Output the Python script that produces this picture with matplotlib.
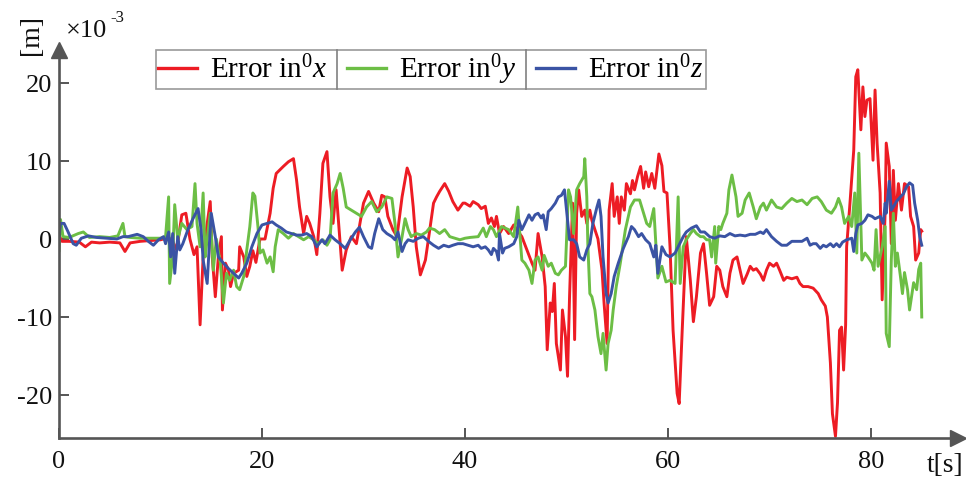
import matplotlib
matplotlib.use("Agg")
import matplotlib.pyplot as plt
from matplotlib.lines import Line2D
import numpy as np

# ---------------- data (values in units of 1e-3 m) ----------------
t_x = [0.0, 0.3, 1.0, 2.0, 2.6, 3.2, 4.0, 5.0, 6.0, 6.5, 7.0, 8.0, 9.0, 10.0, 10.6, 11.1, 11.6, 12.1, 12.5, 12.9,
       13.3, 13.6, 13.9, 14.2, 14.6, 14.9, 15.1, 15.4, 15.7, 16.0, 16.1, 16.4, 16.7, 16.9, 17.2, 17.7, 17.8, 18.2,
       18.5, 18.8, 19.1, 19.4, 19.8, 20.3, 20.8, 21.1, 21.4, 22.1, 22.6, 23.1, 23.4, 23.7, 24.1, 24.4, 24.7, 25.1,
       25.4, 25.7, 26.0, 26.4, 26.7, 27.0, 27.3, 27.6, 27.9, 28.3, 28.8, 29.3, 30.0, 30.5, 31.0, 31.5, 31.8, 32.1,
       32.4, 32.9, 33.3, 33.8, 34.3, 34.6, 34.9, 35.2, 35.6, 36.1, 36.4, 36.9, 37.2, 37.5, 38.0, 38.4, 38.8, 39.3,
       39.8, 40.0, 40.5, 40.8, 41.3, 41.6, 42.0, 42.3, 42.6, 42.9, 43.1, 43.4, 43.8, 44.3, 44.8, 45.1, 45.6, 46.1,
       46.6, 46.9, 47.2, 47.6, 47.9, 48.1, 48.4, 48.6, 48.8, 49.0, 49.4, 49.6, 49.9, 50.1, 50.3, 50.6, 50.8, 51.0,
       51.2, 51.5, 51.8, 52.0, 52.3, 52.5, 52.8, 53.1, 53.5, 53.7, 54.0, 54.2, 54.5, 54.7, 55.0, 55.2, 55.4, 55.7,
       55.9, 56.3, 56.5, 56.7, 57.0, 57.3, 57.6, 57.8, 58.1, 58.4, 58.7, 59.1, 59.4, 59.6, 59.9, 60.2, 60.5, 60.9,
       61.1, 61.4, 61.8, 62.2, 62.5, 62.8, 63.2, 63.5, 63.8, 64.1, 64.5, 64.8, 65.1, 65.4, 65.8, 66.1, 66.4, 66.8,
       67.1, 67.4, 67.8, 68.1, 68.4, 68.7, 69.1, 69.4, 69.7, 70.0, 70.4, 70.7, 71.0, 71.4, 71.7, 72.2, 72.7, 73.0,
       73.3, 73.8, 74.3, 74.8, 75.1, 75.5, 75.7, 76.0, 76.2, 76.5, 76.7, 76.9, 77.1, 77.3, 77.5, 77.6, 77.9, 78.3,
       78.5, 78.7, 79.0, 79.2, 79.4, 79.6, 79.9, 80.2, 80.4, 80.6, 80.9, 81.1, 81.4, 81.5, 81.8, 82.0, 82.2, 82.4,
       82.7, 83.0, 83.3, 83.7, 83.9, 84.2, 84.4, 84.7, 84.9, 85.0]
err_x = [0.5, -0.3, -0.3, -0.4, -1.0, -0.4, -0.5, -0.4, -0.5, -1.6, -0.5, -0.3, -0.2, -0.1, 0.1, 0.0, -1.4, 3.1, 3.3, 0.0,
         -2.0, -1.0, -11.0, -2.3, 2.0, 4.8, -2.3, -7.4, -2.3, 0.3, -9.1, -3.1, -4.0, -6.1, -4.4, -4.0, -1.0, -2.3,
         -4.8, -3.5, -1.5, -3.0, 0.0, 0.0, 3.3, 6.5, 8.4, 9.3, 9.9, 10.3, 7.6, 4.1, 0.7, 2.9, 2.0, 0.3,
         -2.0, 3.3, 9.7, 11.2, 5.4, 2.0, 6.3, 1.2, -4.0, -1.4, 0.3, -0.6, 4.6, 6.1, 4.6, 3.5, 5.6, 5.4,
         2.9, 1.2, 0.3, 5.4, 9.1, 8.0, 4.1, -1.0, -4.6, -2.7, 0.0, 4.6, 5.4, 6.1, 7.1, 6.1, 4.8, 3.7,
         4.6, 4.6, 4.2, 4.8, 4.4, 3.9, 4.2, 2.0, 2.7, 1.6, 2.9, 0.7, 1.6, 0.7, 1.8, 1.2, 0.3, -1.4,
         -3.1, -4.0, 0.7, -2.3, -6.1, -14.2, -8.2, -9.3, -5.7, -13.4, -16.8, -9.1, -12.5, -17.6, -7.4, 4.6, -12.9, 3.3,
         6.3, 2.9, 3.7, 2.0, 3.7, 2.4, 1.2, 0.0, -4.0, -8.2, -13.4, 3.7, 7.1, 2.9, 5.4, 2.0, 5.4, 3.7,
         7.1, 5.8, 7.5, 6.3, 8.0, 9.3, 6.5, 8.6, 6.7, 8.4, 6.5, 10.9, 9.4, 6.1, 5.9, -1.0, -11.7, -19.8,
         -21.1, -11.7, 0.3, -5.3, -10.6, -7.4, -1.8, -0.6, -4.4, -8.5, -7.4, -3.5, -4.0, -6.1, -7.4, -4.4, -2.7, -2.3,
         -4.0, -5.7, -4.5, -3.5, -4.0, -3.8, -4.5, -5.3, -4.0, -3.1, -3.5, -3.1, -4.0, -5.3, -4.9, -5.1, -4.9, -5.7,
         -6.1, -6.1, -6.3, -7.0, -7.8, -8.6, -10.0, -15.9, -22.4, -25.3, -21.0, -11.7, -11.3, -16.8, -11.0, -1.0, 4.1, 11.4,
         20.8, 21.7, 14.0, 19.5, 15.7, 17.8, 18.0, 10.1, 19.1, 12.3, 5.9, -7.8, 3.7, 12.3, 9.3, -0.6, 8.8, 2.4,
         7.1, 3.7, 7.1, 6.7, 2.9, 1.6, -2.7, -1.8, 1.2, 1.0]

t_y = [0.0, 0.15, 0.4, 1.0, 1.9, 2.4, 3.0, 4.0, 5.0, 5.8, 6.3, 6.5, 7.0, 8.0, 9.0, 10.0, 10.5, 10.8, 10.9, 11.2,
       11.4, 11.7, 12.1, 12.6, 13.1, 13.4, 13.6, 13.9, 14.2, 14.4, 14.6, 14.9, 15.2, 15.5, 15.9, 16.2, 16.5, 16.8,
       17.2, 17.5, 17.8, 18.2, 18.5, 18.8, 19.1, 19.3, 19.6, 19.8, 20.1, 20.5, 20.8, 21.1, 21.3, 21.6, 22.1, 22.6,
       23.1, 23.6, 24.1, 24.6, 25.1, 25.5, 26.0, 26.4, 26.7, 27.0, 27.4, 27.7, 28.0, 28.3, 28.8, 29.3, 29.8, 30.3,
       30.8, 31.3, 31.8, 32.3, 32.8, 33.1, 33.4, 33.8, 34.1, 34.4, 34.7, 35.2, 35.7, 36.2, 36.5, 37.0, 37.5, 38.0,
       38.5, 39.0, 39.5, 40.0, 40.5, 41.3, 41.8, 42.1, 42.5, 42.8, 43.1, 43.6, 44.3, 44.8, 45.2, 45.3, 45.6, 45.9,
       46.3, 46.6, 46.9, 47.2, 47.6, 47.8, 48.2, 48.5, 48.9, 49.2, 49.5, 49.9, 50.2, 50.4, 50.7, 51.0, 51.3, 51.7,
       51.8, 52.0, 52.1, 52.3, 52.5, 52.8, 53.1, 53.4, 53.6, 53.9, 54.1, 54.4, 54.6, 54.9, 55.3, 55.8, 56.3, 56.7,
       57.2, 57.6, 57.9, 58.2, 58.6, 58.8, 59.0, 59.4, 59.8, 60.2, 60.7, 61.0, 61.2, 61.5, 61.8, 62.2, 62.5, 62.8,
       63.2, 63.5, 63.8, 64.1, 64.3, 64.6, 64.7, 65.0, 65.2, 65.4, 65.8, 66.0, 66.3, 66.7, 66.9, 67.3, 67.6, 68.0,
       68.4, 68.7, 69.1, 69.4, 69.7, 70.2, 70.7, 71.2, 71.7, 72.2, 72.7, 73.2, 73.7, 74.2, 74.7, 75.1, 75.6, 76.1,
       76.5, 76.8, 77.1, 77.4, 77.8, 78.1, 78.4, 78.6, 78.8, 79.1, 79.4, 79.7, 80.1, 80.3, 80.5, 80.7, 81.1, 81.4,
       81.5, 81.8, 82.0, 82.2, 82.4, 82.6, 82.9, 83.1, 83.3, 83.6, 83.8, 84.2, 84.5, 84.7, 84.9, 85.0]
err_y = [-1.5, 2.5, 0.3, 0.2, 0.7, 0.9, 0.2, 0.3, 0.2, 0.4, 2.0, 0.3, 0.2, 0.1, 0.1, 0.1, 0.3, 5.4, -5.7, -2.3,
         4.4, 0.0, 2.0, 1.2, 1.6, 7.1, 2.0, -1.0, 5.9, -2.3, 0.0, 3.3, -4.0, 0.0, -3.1, -8.2, -4.4, -5.3,
         -4.0, -6.1, -6.5, -4.8, -1.4, 1.6, 5.9, 5.5, 1.6, -1.8, -1.4, -3.1, -2.3, -4.2, -1.0, 1.2, 0.7, 0.1,
         0.7, 0.3, -0.1, 0.3, -0.1, -0.6, -0.1, -0.8, -0.1, 5.9, 7.1, 8.4, 6.5, 4.1, 3.7, 3.3, 2.9, 4.1,
         4.8, 3.5, 4.1, 5.4, 5.2, 2.0, -2.3, 0.3, 2.6, 1.2, 0.3, 0.7, 0.5, 0.9, 1.4, 1.2, 0.7, 1.2,
         0.3, 0.1, -0.1, 0.1, 0.2, 0.3, 1.4, 0.3, 1.6, 1.2, 0.3, 1.6, 1.2, 0.3, 4.1, 2.4, -2.7, -3.1,
         -4.0, -5.7, -2.7, -2.3, -4.0, -2.1, -3.5, -3.1, -4.4, -4.6, -4.0, -3.5, 6.3, 5.4, 0.7, 6.3, 7.1, 8.0,
         10.3, 5.4, -0.6, -7.0, -7.4, -9.1, -12.5, -14.7, -12.1, -16.8, -13.4, -11.7, -9.1, -6.1, -3.1, 1.2, 4.1, 5.0,
         5.0, 3.3, 2.0, 1.6, 3.9, -0.5, -5.0, -3.5, -5.5, -5.3, -5.7, 5.4, -5.7, -1.0, -0.1, 0.7, 1.2, 0.7,
         0.3, 0.3, -0.1, -0.1, -2.3, 1.6, -3.1, 1.6, 1.2, 2.0, 3.3, 6.3, 8.2, 5.4, 2.9, 3.3, 5.0, 5.9,
         4.1, 2.6, 4.1, 4.6, 3.7, 5.0, 4.1, 3.9, 4.6, 5.2, 4.8, 5.0, 4.4, 5.2, 5.4, 4.8, 3.7, 3.3,
         4.1, 5.2, 4.1, 2.0, 2.9, 1.6, 5.9, -1.8, 11.0, -2.7, -1.8, -2.3, -3.1, -4.0, 1.2, -3.5, -1.0, 1.6,
         -12.1, -13.8, -2.7, 3.3, -3.5, -1.8, -4.8, -7.0, -4.3, -6.5, -9.1, -5.6, -6.5, -3.9, -3.1, -10.0]

t_z = [0.0, 0.15, 0.5, 0.9, 1.4, 1.7, 2.2, 2.9, 3.7, 4.7, 5.7, 6.3, 6.8, 7.7, 8.3, 8.8, 9.3, 9.8, 10.3, 10.5,
       10.8, 11.0, 11.2, 11.4, 11.7, 11.9, 12.2, 12.7, 13.2, 13.7, 14.0, 14.2, 14.6, 14.8, 15.0, 15.4, 15.7, 16.2,
       16.7, 17.2, 17.7, 18.0, 18.5, 19.0, 19.5, 20.0, 20.5, 21.0, 21.4, 21.9, 22.4, 22.9, 23.4, 23.9, 24.4, 24.9,
       25.4, 25.9, 26.2, 26.7, 27.2, 27.7, 28.2, 28.7, 29.2, 29.6, 30.0, 30.5, 30.8, 31.1, 31.5, 31.9, 32.3, 32.8,
       33.1, 33.4, 33.8, 34.1, 34.4, 34.9, 35.4, 35.9, 36.4, 36.9, 37.4, 37.9, 38.4, 38.8, 39.3, 39.8, 40.3, 40.8,
       41.3, 41.6, 42.0, 42.3, 42.6, 42.8, 43.1, 43.3, 43.4, 43.7, 43.9, 44.3, 44.8, 45.1, 45.3, 45.6, 45.9, 46.3,
       46.6, 46.9, 47.2, 47.5, 47.7, 48.0, 48.2, 48.5, 48.9, 49.2, 49.5, 49.8, 50.0, 50.2, 50.3, 50.7, 51.0, 51.3,
       51.7, 52.0, 52.3, 52.6, 53.0, 53.2, 53.4, 53.6, 53.9, 54.1, 54.4, 54.7, 55.1, 55.6, 56.1, 56.4, 56.7, 57.1,
       57.4, 57.8, 58.2, 58.6, 58.8, 59.0, 59.4, 59.8, 60.2, 60.7, 61.0, 61.5, 61.8, 62.3, 62.8, 63.2, 63.6, 64.1,
       64.6, 65.1, 65.6, 66.1, 66.6, 67.1, 67.6, 68.1, 68.6, 69.1, 69.4, 69.7, 70.2, 70.7, 71.2, 71.7, 72.2, 72.7,
       73.2, 73.7, 74.0, 74.3, 74.6, 75.0, 75.3, 75.6, 76.0, 76.3, 76.6, 76.9, 77.2, 77.6, 78.1, 78.3, 78.5, 78.7,
       79.1, 79.4, 79.7, 80.1, 80.4, 80.9, 81.2, 81.4, 81.5, 81.8, 82.0, 82.2, 82.5, 82.9, 83.2, 83.5, 83.8, 84.1,
       84.3, 84.6, 84.8, 85.0]
err_z = [0.0, 2.0, 2.0, 0.9, -0.6, -0.8, 0.1, 0.4, 0.2, 0.1, 0.0, 0.3, 0.3, 0.6, 0.3, -0.3, -0.8, -0.1, 0.3, -0.6,
         0.9, -2.3, 0.7, -4.4, 0.3, -1.4, -0.6, 1.2, 2.6, 3.9, 1.2, -2.7, -5.7, -1.0, 3.3, 0.3, -2.3, -3.1,
         -3.8, -4.4, -5.0, -4.4, -3.1, -1.0, 0.7, 1.8, 2.0, 2.2, 1.8, 1.4, 0.9, 0.7, 0.5, 0.5, 0.7, 0.3,
         -1.0, -0.1, -0.6, 0.5, -0.1, -0.6, -1.2, -0.1, 0.9, 1.5, 0.3, -1.0, -1.2, 0.7, 2.6, 1.2, 0.7, 0.3,
         -0.1, 0.9, -1.6, -0.6, -0.1, -0.3, 0.1, 0.3, -0.3, -0.8, -1.2, -0.8, -1.0, -0.8, -0.6, -0.6, -0.8, -1.0,
         -0.8, -1.2, -1.0, -1.4, -2.0, -1.2, -1.6, -2.7, 0.7, -1.8, -1.2, -1.0, -0.6, 0.3, 2.4, 1.2, 2.0, 3.1,
         2.4, 3.1, 3.3, 2.7, 3.1, 1.2, 3.5, 3.9, 4.6, 5.4, 5.6, 6.3, 3.7, 1.2, -0.1, -0.1, -0.6, -2.3,
         -2.7, -1.4, -0.6, 2.0, 4.1, 5.0, 2.9, -2.3, -7.0, -8.2, -7.0, -4.8, -3.1, -1.2, 0.3, 1.6, 1.2, 0.3,
         0.7, -0.1, -0.6, -2.3, -0.8, -4.4, -1.0, -2.0, -2.3, -1.8, -1.0, 0.3, 0.9, 1.4, 1.7, 0.9, 0.9, 0.3,
         0.1, 0.4, 0.3, 0.7, 0.4, 0.5, 0.4, 0.6, 0.6, 0.9, 0.7, 1.2, 0.3, -0.3, -0.8, -0.8, -0.3, -0.3,
         -0.3, 0.1, -0.8, -0.6, -0.6, -1.2, -0.8, -1.0, -0.6, -1.0, -0.6, -1.0, -0.4, -0.1, 0.1, -1.6, 0.7, 1.8,
         2.0, 2.4, 3.1, 2.9, 2.6, 2.9, 2.0, 4.6, 3.3, 7.4, 3.7, 4.1, 4.8, 5.4, 5.8, 6.7, 7.2, 6.9,
         4.6, 2.4, 0.3, -0.8]

series_labels = [r'Error in$^{0}x$', r'Error in$^{0}y$', r'Error in$^{0}z$']
x_ticks = [0, 20, 40, 60, 80]
y_ticks = [-20, -10, 0, 10, 20]

# ---------------- style ----------------
plt.rcParams['font.family'] = ['Liberation Serif', 'DejaVu Serif']
plt.rcParams['mathtext.fontset'] = 'custom'
plt.rcParams['mathtext.rm'] = 'Liberation Serif'
plt.rcParams['mathtext.it'] = 'Liberation Serif:italic'
plt.rcParams['mathtext.bf'] = 'Liberation Serif:bold'

RED = '#ED1C24'
GREEN = '#6CBE45'
BLUE = '#3A53A4'
AXC = '#555555'
FS = 19
LFS = 21

W, H = 966, 479
fig = plt.figure(figsize=(W / 100, H / 100), dpi=100)
ax_left, ax_right, ax_bottom, ax_top = 59, 958, 438, 50
ax = fig.add_axes([ax_left / W, 1 - ax_bottom / H, (ax_right - ax_left) / W, (ax_bottom - ax_top) / H])

px_per_t = 10.15
px_per_v = 7.8
ax.set_xlim(0, (ax_right - ax_left) / px_per_t)
ax.set_ylim(-(ax_bottom - 239) / px_per_v, (239 - ax_top) / px_per_v)

lw = 2.1
ax.plot(t_x, err_x, color=RED, lw=lw, label=series_labels[0], solid_joinstyle='round')
ax.plot(t_y, err_y, color=GREEN, lw=lw, label=series_labels[1], solid_joinstyle='round')
ax.plot(t_z, err_z, color=BLUE, lw=lw, label=series_labels[2], solid_joinstyle='round')

for s in ['top', 'right']:
    ax.spines[s].set_visible(False)
for s in ['left', 'bottom']:
    ax.spines[s].set_color(AXC)
    ax.spines[s].set_linewidth(1.9)
ax.spines['left'].set_zorder(5)
ax.spines['bottom'].set_zorder(5)

ax.set_xticks(x_ticks)
ax.set_yticks(y_ticks)
ax.set_xticklabels([str(v) for v in x_ticks])
ax.set_yticklabels([str(v) for v in y_ticks])
ax.tick_params(direction='in', length=7, width=1.4, color=AXC, labelsize=FS, labelcolor='#111111')
ax.tick_params(axis='x', pad=9)
ax.tick_params(axis='y', pad=5)

# axis arrows
ax.plot(1, 0, marker='>', ms=12, color=AXC, transform=ax.transAxes, clip_on=False, zorder=6)
ax.plot(0, 1, marker='^', ms=12, color=AXC, transform=ax.transAxes, clip_on=False, zorder=6)

# axis annotations
fig.text(31 / W, 1 - 35 / H, '[m]', rotation=90, ha='center', va='center', fontsize=FS + 1, color='#111111')
fig.text(66 / W, 1 - 31 / H, '×10', ha='left', va='center', fontsize=FS, color='#111111')
fig.text(110 / W, 1 - 18 / H, '-3', ha='left', va='center', fontsize=12, color='#111111')
fig.text(945 / W, 1 - 466 / H, 't[s]', ha='center', va='center', fontsize=FS + 1, color='#111111')

# legend
leg = ax.legend(loc='upper left', bbox_to_anchor=(156 / W, 1 - 50 / H), bbox_transform=fig.transFigure,
                ncol=3, fontsize=LFS, frameon=True, fancybox=False, borderaxespad=0,
                handlelength=1.33, handletextpad=0.45, columnspacing=0.67, borderpad=0.08)
leg.get_frame().set_edgecolor('#808080')
leg.get_frame().set_linewidth(1.2)
for h in leg.legend_handles:
    h.set_linewidth(2.4)

fig.canvas.draw()
r = fig.canvas.get_renderer()
fb = leg.get_frame().get_window_extent(r)
texts = leg.get_texts()
handles = leg.legend_handles
inv = fig.transFigure.inverted()
for i in range(2):
    x_end = texts[i].get_window_extent(r).x1
    x_start = handles[i + 1].get_window_extent(r).x0
    xm = (x_end + x_start) / 2
    (fx0, fy0) = inv.transform((xm, fb.y0))
    (fx1, fy1) = inv.transform((xm, fb.y1))
    fig.add_artist(Line2D([fx0, fx1], [fy0, fy1], transform=fig.transFigure, color='#808080', lw=1.2))

fig.savefig('out.png', dpi=100)
